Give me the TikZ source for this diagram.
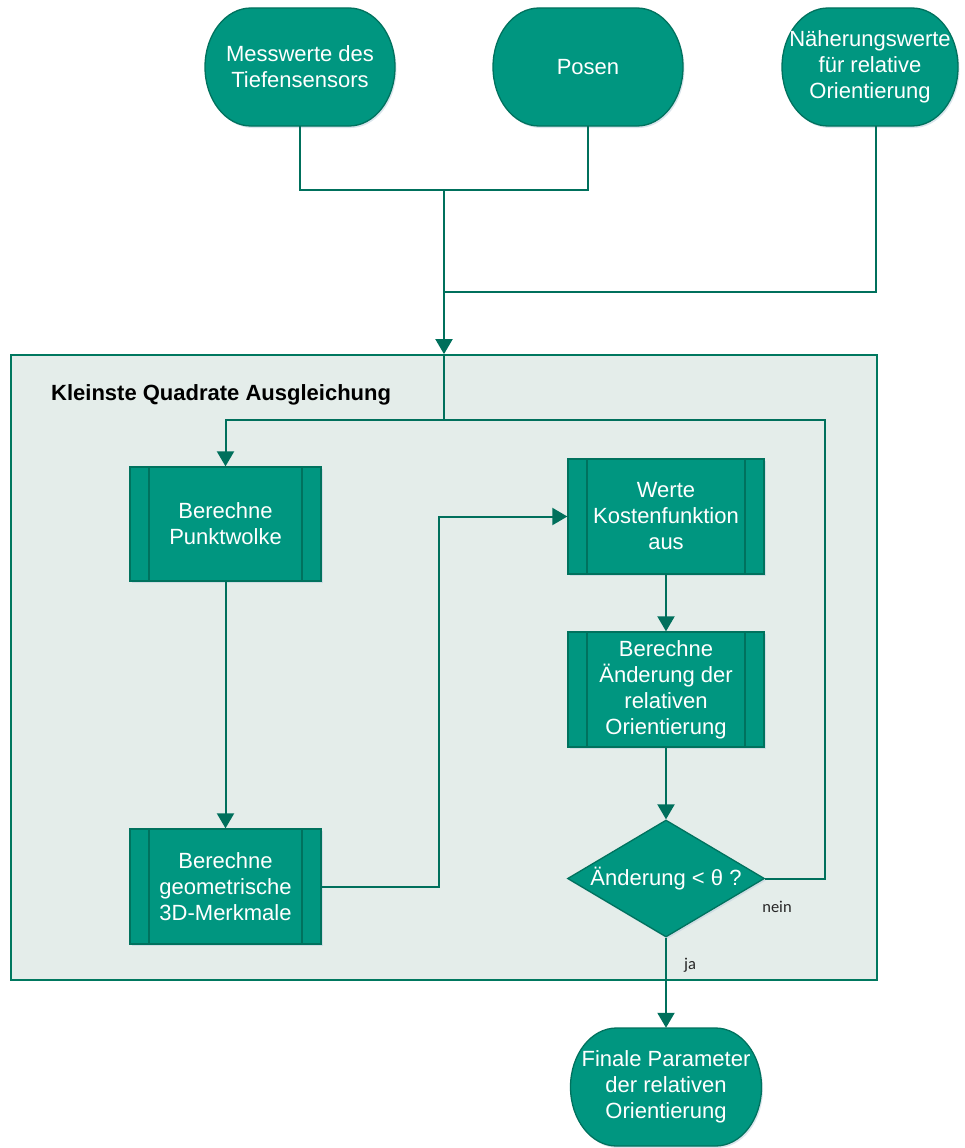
\documentclass[tikz,border=0pt]{standalone}
\usepackage{fontspec}
\setmainfont{Liberation Sans}
\newfontfamily\labelfont{Carlito}
\usetikzlibrary{arrows.meta,shapes.geometric,calc}

\definecolor{flowfill}{HTML}{009680}
\definecolor{flowedge}{HTML}{00725E}
\definecolor{wire}{HTML}{00705C}
\definecolor{panel}{HTML}{E4EDEA}
\definecolor{paneledge}{HTML}{00785F}
\definecolor{haze}{HTML}{BCCFDC}

\tikzset{
  x=1pt, y=1pt,
  boxtext/.style={text=white, align=center, font=\fontsize{22}{26}\selectfont},
  soft/.style={preaction={fill=haze, opacity=0.55,
      transform canvas={xshift=1.5pt, yshift=-2pt}}},
  termshape/.style={draw=flowedge, fill=flowfill, line width=1.3pt, soft},
  procbox/.style={boxtext, rectangle, draw=flowedge, fill=flowfill,
      line width=1.3pt, inner sep=0pt, soft,
      path picture={
        \draw[flowedge, line width=1.3pt]
          ($(path picture bounding box.north west)+(19,0)$) --
          ($(path picture bounding box.south west)+(19,0)$);
        \draw[flowedge, line width=1.3pt]
          ($(path picture bounding box.north east)+(-19,0)$) --
          ($(path picture bounding box.south east)+(-19,0)$);
      }},
  decision/.style={diamond, draw=flowedge, fill=flowfill, line width=1.3pt,
      inner sep=0pt, soft},
  wireline/.style={draw=wire, line width=2pt},
  flow/.style={wireline, -{Triangle[width=17pt,length=15pt]}},
  branchlabel/.style={font=\labelfont\fontsize{16.5}{19}\selectfont, text=black!85, inner sep=0pt},
}

% terminal with half-elliptic ends: name, cx, cy, width, height, text
\newcommand{\flowterminal}[6]{%
  \pgfmathsetmacro{\termL}{#2-#4/2+46}%
  \pgfmathsetmacro{\termR}{#2+#4/2-46}%
  \pgfmathsetmacro{\termB}{#3-#5/2}%
  \pgfmathsetmacro{\termT}{#3+#5/2}%
  \pgfmathsetmacro{\termRy}{#5/2}%
  \filldraw[termshape] (\termL,\termB) -- (\termR,\termB)
    arc[start angle=-90, end angle=90, x radius=46pt, y radius=\termRy pt]
    -- (\termL,\termT)
    arc[start angle=90, end angle=270, x radius=46pt, y radius=\termRy pt]
    -- cycle;
  \node[boxtext, minimum width=#4, minimum height=#5, inner sep=0pt] (#1) at (#2,#3) {#6};
}

\begin{document}
\begin{tikzpicture}
\useasboundingbox (0,0) rectangle (965,-1148);

% least-squares block
\node[draw=paneledge, fill=panel, line width=1.8pt, minimum width=866,
      minimum height=625, inner sep=0pt] (lsq) at (444,-667.5) {};
\node[anchor=base west, font=\bfseries\fontsize{22}{26}\selectfont, inner sep=0pt]
      (title) at (51,-400) {Kleinste Quadrate Ausgleichung};

% inputs
\flowterminal{mess}{300}{-67}{190}{118}{Messwerte des\\Tiefensensors}
\flowterminal{posen}{588}{-67}{190}{118}{Posen}
\flowterminal{naeh}{870}{-67}{176}{118}{Näherungswerte\\für relative\\Orientierung}

% processing steps
\node[procbox, minimum width=191, minimum height=114] (cloud) at (225.5,-524) {Berechne\\Punktwolke};
\node[procbox, minimum width=191, minimum height=115] (feat) at (225.5,-886.5) {Berechne\\geometrische\\3D-Merkmale};
\node[procbox, minimum width=196, minimum height=115] (cost) at (666,-516.5) {Werte\\Kostenfunktion\\aus};
\node[procbox, minimum width=196, minimum height=115] (delta) at (666,-689.5) {Berechne\\Änderung der\\relativen\\Orientierung};

% convergence test
\node[decision, minimum width=197, minimum height=117] (test) at (666,-878.5) {};
\node[boxtext, inner sep=0pt] (testtext) at (test.center) {Änderung < θ ?};

% result
\flowterminal{final}{666}{-1087}{191}{118}{Finale Parameter\\der relativen\\Orientierung}

% merge points
\coordinate (merge) at (444,-190);
\coordinate (mergeB) at (444,-292);
\coordinate (loopR) at (825,-420);

% connectors
\draw[wireline] (mess.south) |- (merge);
\draw[wireline] (posen.south) |- (merge);
\draw[wireline] ([xshift=6pt]naeh.south) |- (mergeB);
\draw[flow] (merge) -- (lsq.north);
\draw[wireline] (lsq.north) -- (lsq.north |- loopR);
\draw[flow] (test.east) -| (loopR) -| (cloud.north);
\draw[flow] (cloud.south) -- (feat.north);
\draw[flow] (feat.east) -- ++(117,0) |- (cost.west);
\draw[flow] (cost.south) -- (delta.north);
\draw[flow] (delta.south) -- (test.north);
\draw[flow] (test.south) -- (final.north);

% branch labels
\node[branchlabel] (nein) at (777,-907) {nein};
\node[branchlabel] (ja) at (690,-965) {ja};
\end{tikzpicture}
\end{document}
